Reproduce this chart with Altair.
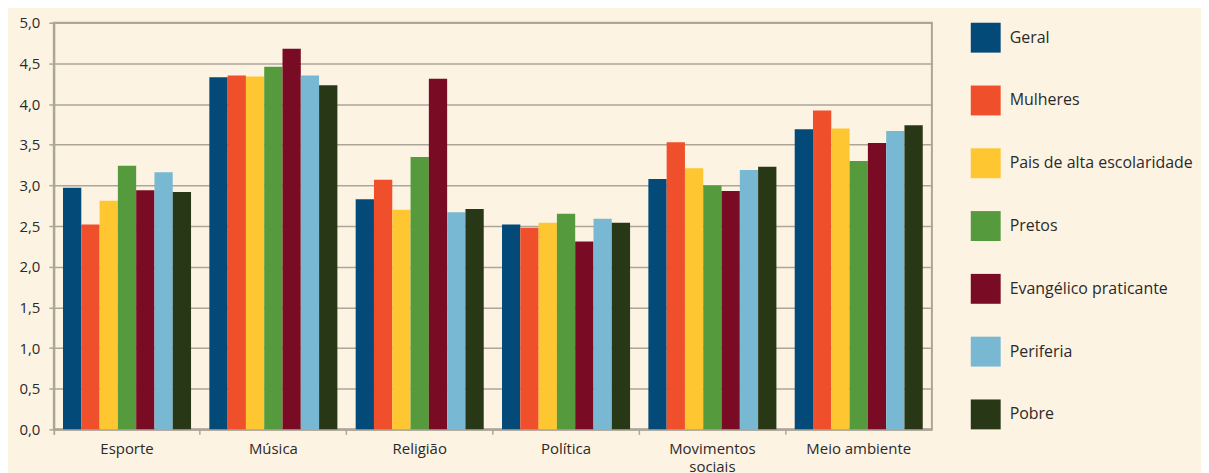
import altair as alt
import pandas as pd

categories = ["Esporte", "Música", "Religião", "Política", "Movimentos sociais", "Meio ambiente"]
series = ["Geral", "Mulheres", "Pais de alta escolaridade", "Pretos",
          "Evangélico praticante", "Periferia", "Pobre"]
colors = ["#034a79", "#f04f2b", "#fec631", "#559a3c", "#790c24", "#79b8d2", "#283816"]

geral = [2.97, 4.33, 2.83, 2.52, 3.08, 3.69]
mulheres = [2.52, 4.35, 3.07, 2.48, 3.53, 3.92]
pais = [2.81, 4.34, 2.70, 2.54, 3.21, 3.70]
pretos = [3.24, 4.46, 3.35, 2.65, 3.00, 3.30]
evangelico = [2.94, 4.68, 4.31, 2.31, 2.93, 3.52]
periferia = [3.16, 4.35, 2.67, 2.59, 3.19, 3.67]
pobre = [2.92, 4.23, 2.71, 2.54, 3.23, 3.74]

values = [geral, mulheres, pais, pretos, evangelico, periferia, pobre]

rows = []
for s, vals in zip(series, values):
    for c, v in zip(categories, vals):
        rows.append({"categoria": c, "grupo": s, "valor": v})
df = pd.DataFrame(rows)

font = "Open Sans"
text_color = "#2a2a2a"
grid_color = "#aca699"

chart = alt.Chart(df).mark_bar().encode(
    x=alt.X("categoria:N", sort=categories, title=None,
            scale=alt.Scale(paddingInner=0, paddingOuter=0),
            axis=alt.Axis(labelAngle=0, bandPosition=0, tickExtra=True,
                          tickSize=5, tickColor=grid_color, tickWidth=1.5,
                          domainColor=grid_color, domainWidth=2,
                          labelFont=font, labelFontSize=15, labelColor=text_color,
                          labelPadding=7, labelLineHeight=18,
                          labelExpr="datum.label == 'Movimentos sociais' ? ['Movimentos', 'sociais'] : datum.label")),
    xOffset=alt.XOffset("grupo:N", sort=series,
                        scale=alt.Scale(paddingInner=0, paddingOuter=0.5)),
    y=alt.Y("valor:Q", title=None,
            scale=alt.Scale(domain=[0, 5], nice=False),
            axis=alt.Axis(values=[0, 0.5, 1, 1.5, 2, 2.5, 3, 3.5, 4, 4.5, 5],
                          labelExpr="replace(format(datum.value, '.1f'), '.', ',')",
                          tickSize=5, tickColor=grid_color, tickWidth=1.5,
                          domainColor=grid_color, domainWidth=2,
                          gridColor=grid_color, gridWidth=1.5,
                          labelFont=font, labelFontSize=15, labelColor=text_color,
                          labelPadding=9)),
    color=alt.Color("grupo:N", sort=series,
                    scale=alt.Scale(domain=series, range=colors),
                    legend=alt.Legend(title=None, orient="none", legendX=920, legendY=0,
                                      symbolType="square", symbolSize=900,
                                      symbolStrokeWidth=0, rowPadding=33,
                                      labelOffset=9, labelFont=font, labelFontSize=16,
                                      labelColor=text_color, labelLimit=400,
                                      padding=0)),
).properties(
    width=881,
    height=408,
    background="#fdf3e3",
    padding={"left": 46, "top": 14, "right": 270, "bottom": 43},
    autosize=alt.AutoSizeParams(type="none"),
).configure_view(
    stroke=grid_color, strokeWidth=2
)

chart.save("out.html", embed_options={"renderer": "svg", "actions": False})
